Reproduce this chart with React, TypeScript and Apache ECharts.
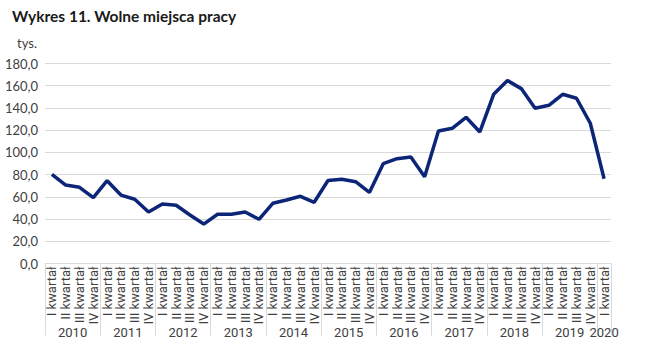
import React, { useEffect, useRef } from "react";
import * as echarts from "echarts";

const quarterNames = ["I kwartał", "II kwartał", "III kwartał", "IV kwartał"];
const years = [2010, 2011, 2012, 2013, 2014, 2015, 2016, 2017, 2018, 2019, 2020];
const quartersPerYear = [4, 4, 4, 4, 4, 4, 4, 4, 4, 4, 1];
const values = [
  80.3, 70.6, 68.6, 59.2,
  74.5, 61.6, 57.8, 46.4,
  53.6, 52.4, 43.7, 35.5,
  44.3, 44.3, 46.4, 39.8,
  54.2, 57.2, 60.5, 55.1,
  74.7, 75.8, 73.6, 64.0,
  89.8, 94.3, 95.9, 78.1,
  119.3, 121.7, 131.6, 118.4,
  152.3, 164.6, 157.4, 139.7,
  142.4, 152.3, 148.7, 126.2,
  76.3,
];

export default function App() {
  const ref = useRef<HTMLDivElement>(null);
  useEffect(() => {
    if (!ref.current) return;
    const chart = echarts.init(ref.current, null, { renderer: "svg" });
    const categories: string[] = [];
    const yearBounds: number[] = [0];
    const yearCenters: number[] = [];
    let pos = 0;
    years.forEach((y, i) => {
      const n = quartersPerYear[i];
      for (let q = 0; q < n; q++) categories.push(quarterNames[q]);
      yearCenters.push(pos + n / 2);
      pos += n;
      yearBounds.push(pos);
    });
    const font = "Lato";
    chart.setOption({
      animation: false,
      title: {
        text: "Wykres 11. Wolne miejsca pracy",
        left: 7,
        top: 3,
        textStyle: { fontFamily: font, fontWeight: "bold", fontSize: 15.5, color: "#1a1a1a" },
      },
      grid: { left: 45, right: 34, top: 63.5, bottom: 89.5 },
      xAxis: [
        {
          type: "category",
          data: categories,
          boundaryGap: true,
          axisLine: { show: true, lineStyle: { color: "#d9d9d9", width: 1 } },
          axisTick: { show: false },
          axisLabel: {
            rotate: 90,
            interval: 0,
            margin: 3,
            fontFamily: "Roboto",
            fontSize: 13,
            color: "#404040",
          },
        },
        {
          type: "value",
          min: 0,
          max: pos,
          position: "bottom",
          axisLine: { show: false },
          splitLine: { show: false },
          axisTick: {
            show: true,
            customValues: yearBounds,
            length: 72,
            lineStyle: { color: "#d9d9d9", width: 1 },
          },
          axisLabel: {
            customValues: yearCenters,
            margin: 62,
            fontFamily: "Roboto",
            fontSize: 13,
            color: "#404040",
            formatter: (v: number) => {
              const idx = yearCenters.findIndex((c) => Math.abs(c - v) < 1e-6);
              return idx >= 0 ? String(years[idx]) : "";
            },
          },
        },
      ],
      yAxis: {
        type: "value",
        min: 0,
        max: 180,
        interval: 20,
        name: "tys.",
        nameLocation: "end",
        nameGap: 14,
        nameTextStyle: { fontFamily: font, fontSize: 13, color: "#404040", align: "right", padding: [0, 8, 0, 0] },
        axisLine: { show: false },
        axisTick: { show: false },
        splitLine: { lineStyle: { color: "#d9d9d9", width: 1 } },
        axisLabel: {
          margin: 7,
          fontFamily: font,
          fontSize: 13,
          color: "#404040",
          formatter: (v: number) => v.toFixed(1).replace(".", ","),
        },
      },
      series: [
        {
          type: "line",
          data: values,
          xAxisIndex: 0,
          symbol: "none",
          lineStyle: { color: "#0c2577", width: 3.5 },
        },
      ],
    });
    return () => chart.dispose();
  }, []);
  return (
    <div
      ref={ref}
      style={{ position: "fixed", left: 0, top: 0, width: 645, height: 353, background: "#fff" }}
    />
  );
}
